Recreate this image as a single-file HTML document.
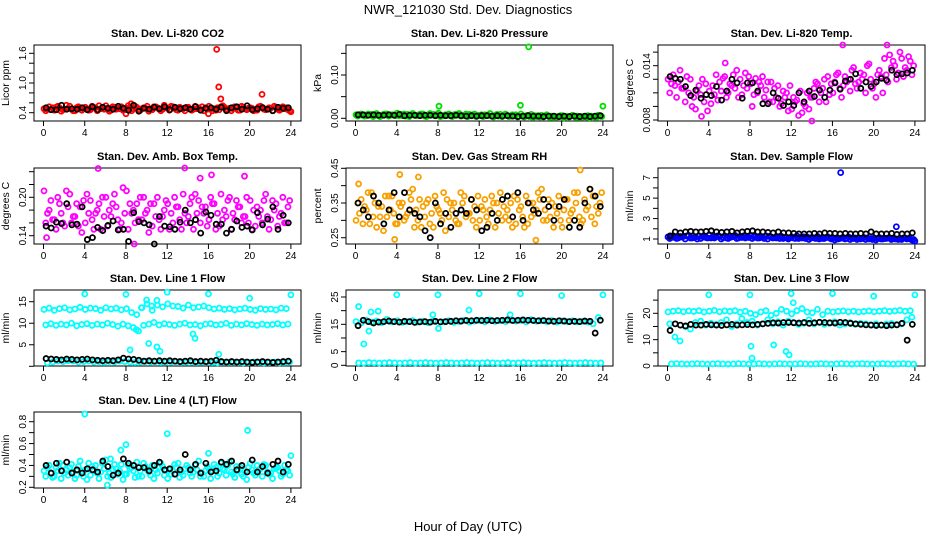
<!DOCTYPE html>
<html><head><meta charset="utf-8"><style>
body{margin:0;background:#fff;}
svg{display:block;font-family:"Liberation Sans",sans-serif;}
</style></head><body>
<svg id="chart" width="936" height="540" viewBox="0 0 936 540" xmlns="http://www.w3.org/2000/svg">
<rect width="936" height="540" fill="#fff"/>
<text x="468" y="14" font-size="13" text-anchor="middle">NWR_121030  Std. Dev. Diagnostics</text>
<text x="468" y="531" font-size="13" text-anchor="middle">Hour of Day (UTC)</text>
</svg>
<script>
const HOURS=[0,0.5,1,1.5,2,2.5,3,3.5,4,4.5,5,5.5,6,6.5,7,7.5,8,8.5,9,9.5,10,10.5,11,11.5,12,12.5,13,13.5,14,14.5,15,15.5,16,16.5,17,17.5,18,18.5,19,19.5,20,20.5,21,21.5,22,22.5,23,23.5];
const XTICKS=[0,4,8,12,16,20,24];

const co2A=[0.48,0.52,0.45,0.50,0.47,0.53,0.44,0.49,0.51,0.46,0.50,0.48,0.54,0.45,0.47,0.52,0.49,0.44,0.51,0.48,0.53,0.46,0.50,0.47,0.49,0.52,0.45,0.48,0.51,0.47,0.50,0.44,0.53,0.48,0.46,0.51,0.49,0.52,0.45,0.48,0.50,0.47,0.53,0.46,0.49,0.51,0.47,0.50];
const co2B=[0.44,0.46,0.51,0.43,0.55,0.47,0.50,0.45,0.48,0.53,0.44,0.50,0.47,0.52,0.49,0.45,0.54,0.48,0.46,0.50,0.43,0.52,0.47,0.55,0.45,0.49,0.51,0.44,0.47,0.53,0.46,0.50,0.48,0.45,0.52,0.47,0.44,0.50,0.53,0.46,0.49,0.45,0.51,0.48,0.44,0.47,0.52,0.46];
const co2C=[0.47,0.50,0.53,0.46,0.49,0.44,0.52,0.48,0.45,0.50,0.54,0.47,0.43,0.51,0.48,0.46,0.50,0.53,0.45,0.49,0.47,0.52,0.44,0.50,0.53,0.46,0.49,0.51,0.45,0.48,0.52,0.47,0.44,0.50,0.54,0.46,0.48,0.45,0.51,0.49,0.44,0.52,0.47,0.50,0.53,0.45,0.48,0.44];
const co2K=[0.50,0.46,0.46,0.55,0.47,0.48,0.47,0.50,0.46,0.52,0.46,0.51,0.49,0.47,0.53,0.49,0.45,0.55,0.43,0.49,0.47,0.51,0.48,0.52,0.46,0.51,0.48,0.50,0.47,0.52,0.45,0.49,0.50,0.47,0.51,0.44,0.50,0.52,0.47,0.54,0.46,0.48,0.50,0.47,0.44,0.51,0.49,0.50];
const co2OutH=[16.8,17.0,17.2,21.2,8.0,16.0,24.0,8.5];
const co2OutV=[1.68,0.92,0.68,0.77,0.38,0.38,0.42,0.58];

const presA=[0.008,0.010,0.006,0.009,0.011,0.007,0.010,0.008,0.012,0.006,0.009,0.011,0.007,0.010,0.008,0.009,0.012,0.006,0.010,0.008,0.011,0.007,0.009,0.010,0.006,0.008,0.011,0.007,0.009,0.010,0.005,0.008,0.010,0.006,0.009,0.004,0.007,0.008,0.005,0.003,0.006,0.004,0.007,0.005,0.003,0.006,0.004,0.007];
const presB=[0.005,0.007,0.010,0.004,0.006,0.009,0.005,0.008,0.006,0.010,0.004,0.007,0.009,0.005,0.011,0.006,0.004,0.008,0.006,0.009,0.005,0.010,0.006,0.004,0.008,0.006,0.005,0.009,0.004,0.006,0.008,0.003,0.005,0.007,0.002,0.006,0.003,0.005,0.002,0.004,0.001,0.003,0.005,0.002,0.004,0.001,0.003,0.005];
const presC=[0.007,0.005,0.009,0.008,0.004,0.010,0.007,0.006,0.009,0.005,0.008,0.006,0.010,0.004,0.007,0.009,0.005,0.007,0.004,0.008,0.006,0.004,0.008,0.007,0.004,0.007,0.003,0.005,0.007,0.004,0.006,0.005,0.003,0.004,0.006,0.003,0.005,0.002,0.004,0.006,0.003,0.005,0.002,0.004,0.003,0.005,0.002,0.004];
const presK=[0.008,0.008,0.007,0.008,0.007,0.007,0.008,0.007,0.009,0.006,0.007,0.007,0.006,0.007,0.007,0.006,0.007,0.006,0.006,0.007,0.006,0.005,0.006,0.005,0.006,0.006,0.005,0.006,0.005,0.006,0.005,0.004,0.005,0.006,0.005,0.005,0.004,0.005,0.005,0.004,0.005,0.004,0.005,0.004,0.005,0.004,0.005,0.006];
const presOutH=[16.8,8.1,16.0,24.0];
const presOutV=[0.165,0.028,0.030,0.028];

const tempA=[0.0125,0.0130,0.0122,0.0115,0.0110,0.0105,0.0118,0.0100,0.0112,0.0108,0.0122,0.0128,0.0120,0.0115,0.0125,0.0132,0.0120,0.0126,0.0118,0.0113,0.0122,0.0105,0.0098,0.0110,0.0092,0.0102,0.0088,0.0110,0.0105,0.0120,0.0115,0.0128,0.0110,0.0132,0.0118,0.0125,0.0138,0.0122,0.0130,0.0142,0.0120,0.0135,0.0148,0.0152,0.0140,0.0155,0.0138,0.0145];
const tempB=[0.0110,0.0118,0.0135,0.0100,0.0125,0.0092,0.0108,0.0120,0.0098,0.0130,0.0112,0.0105,0.0118,0.0135,0.0108,0.0115,0.0095,0.0110,0.0128,0.0122,0.0100,0.0118,0.0112,0.0090,0.0105,0.0085,0.0098,0.0092,0.0115,0.0100,0.0125,0.0108,0.0122,0.0115,0.0128,0.0112,0.0120,0.0132,0.0110,0.0125,0.0105,0.0128,0.0130,0.0138,0.0125,0.0148,0.0135,0.0130];
const tempC=[0.0120,0.0105,0.0115,0.0128,0.0095,0.0112,0.0125,0.0090,0.0118,0.0102,0.0126,0.0110,0.0130,0.0105,0.0118,0.0128,0.0108,0.0122,0.0105,0.0100,0.0115,0.0095,0.0105,0.0118,0.0100,0.0112,0.0095,0.0105,0.0122,0.0110,0.0100,0.0120,0.0130,0.0105,0.0122,0.0135,0.0115,0.0125,0.0140,0.0115,0.0130,0.0110,0.0122,0.0145,0.0132,0.0128,0.0150,0.0140];
const tempK=[0.0128,0.0126,0.0125,0.0117,0.0107,0.0113,0.0104,0.0108,0.0107,0.0117,0.0102,0.0112,0.0125,0.0121,0.0104,0.0121,0.0121,0.0112,0.0098,0.0098,0.0110,0.0104,0.0096,0.0100,0.0096,0.0110,0.0100,0.0112,0.0106,0.0113,0.0105,0.0113,0.0121,0.0114,0.0123,0.0125,0.0131,0.0115,0.0122,0.0117,0.0122,0.0126,0.0124,0.0135,0.0130,0.0131,0.0132,0.0135];
const tempOutH=[17.0,21.3,5.6,14.0,3.3];
const tempOutV=[0.0172,0.0173,0.0143,0.0076,0.0084];

const ambA=[0.21,0.18,0.165,0.19,0.155,0.205,0.17,0.185,0.16,0.195,0.175,0.15,0.20,0.17,0.185,0.16,0.21,0.175,0.19,0.165,0.18,0.155,0.20,0.17,0.19,0.16,0.185,0.205,0.17,0.15,0.195,0.175,0.165,0.19,0.155,0.18,0.20,0.165,0.185,0.17,0.195,0.155,0.18,0.205,0.165,0.19,0.175,0.16];
const ambB=[0.16,0.195,0.15,0.175,0.21,0.16,0.19,0.145,0.205,0.165,0.18,0.20,0.155,0.19,0.165,0.215,0.15,0.18,0.165,0.20,0.145,0.19,0.165,0.18,0.15,0.2,0.165,0.175,0.19,0.205,0.16,0.185,0.2,0.15,0.205,0.17,0.15,0.195,0.16,0.2,0.15,0.185,0.16,0.17,0.195,0.155,0.2,0.185];
const ambC=[0.175,0.165,0.20,0.16,0.185,0.17,0.155,0.195,0.175,0.15,0.19,0.17,0.18,0.205,0.15,0.175,0.19,0.16,0.2,0.175,0.19,0.17,0.15,0.195,0.175,0.185,0.15,0.16,0.2,0.175,0.185,0.155,0.19,0.175,0.165,0.195,0.175,0.185,0.17,0.16,0.18,0.17,0.195,0.15,0.18,0.17,0.16,0.195];
const ambK=[0.155,0.152,0.161,0.159,0.19,0.157,0.158,0.185,0.134,0.137,0.153,0.148,0.156,0.163,0.149,0.150,0.131,0.176,0.162,0.160,0.157,0.127,0.170,0.155,0.154,0.150,0.161,0.18,0.160,0.165,0.144,0.177,0.172,0.158,0.158,0.144,0.150,0.163,0.153,0.155,0.149,0.176,0.157,0.166,0.185,0.150,0.172,0.160];
const ambOutH=[5.3,13.7,19.5,15.2,16.3,0.3,8.8];
const ambOutV=[0.245,0.255,0.233,0.23,0.235,0.137,0.127];

const rhA=[0.30,0.36,0.33,0.38,0.28,0.34,0.31,0.37,0.29,0.35,0.32,0.39,0.30,0.34,0.36,0.28,0.33,0.38,0.31,0.35,0.29,0.37,0.32,0.34,0.30,0.36,0.33,0.28,0.38,0.31,0.35,0.29,0.34,0.37,0.31,0.33,0.39,0.30,0.35,0.32,0.28,0.36,0.33,0.38,0.30,0.34,0.37,0.32];
const rhB=[0.35,0.29,0.38,0.31,0.34,0.27,0.37,0.32,0.35,0.30,0.38,0.28,0.36,0.31,0.29,0.37,0.32,0.27,0.35,0.30,0.38,0.31,0.36,0.28,0.34,0.31,0.37,0.35,0.30,0.33,0.28,0.36,0.31,0.29,0.35,0.38,0.30,0.36,0.28,0.37,0.33,0.30,0.38,0.31,0.36,0.39,0.29,0.35];
const rhC=[0.32,0.34,0.29,0.35,0.31,0.37,0.33,0.29,0.34,0.31,0.36,0.33,0.28,0.35,0.32,0.34,0.30,0.36,0.33,0.29,0.35,0.32,0.30,0.37,0.33,0.29,0.35,0.32,0.34,0.30,0.37,0.33,0.28,0.35,0.32,0.36,0.33,0.31,0.34,0.30,0.36,0.32,0.35,0.29,0.33,0.31,0.34,0.38];
const rhK=[0.35,0.33,0.31,0.37,0.35,0.29,0.33,0.38,0.31,0.38,0.33,0.32,0.31,0.27,0.25,0.35,0.29,0.32,0.28,0.32,0.33,0.32,0.36,0.33,0.27,0.28,0.32,0.30,0.36,0.37,0.31,0.38,0.30,0.35,0.33,0.32,0.36,0.34,0.30,0.34,0.36,0.28,0.30,0.28,0.35,0.39,0.37,0.34];
const rhOutH=[4.3,6.1,21.8,17.5,0.3,3.8];
const rhOutV=[0.432,0.425,0.445,0.243,0.405,0.245];

const sfA=[1.2,1.3,1.1,1.25,1.35,1.15,1.3,1.2,1.4,1.1,1.25,1.3,1.15,1.35,1.2,1.1,1.3,1.25,1.15,1.3,1.2,1.1,1.25,1.15,1.2,1.3,1.1,1.2,1.15,1.25,1.05,1.2,1.1,1.0,1.15,1.2,1.05,1.1,1.15,1.0,1.1,1.15,1.05,1.1,1.0,1.05,1.1,1.0];
const sfB=[1.05,1.15,1.25,1.0,1.1,1.2,1.05,1.15,1.1,1.2,1.0,1.1,1.2,1.05,1.15,1.2,1.05,1.1,1.2,1.0,1.1,1.2,1.05,1.0,1.1,1.05,1.2,0.95,1.1,1.0,1.05,1.1,0.9,1.05,1.0,0.95,1.1,1.0,0.95,1.05,0.9,1.0,1.05,0.95,1.0,0.95,1.0,0.9];
const sfC=[1.15,1.05,1.2,1.3,1.1,1.0,1.25,1.1,1.2,1.3,1.15,1.05,1.25,1.1,1.3,1.15,1.2,1.1,1.05,1.25,1.15,1.05,1.15,1.1,1.05,1.15,1.05,1.1,1.05,1.1,1.15,1.0,1.05,1.1,1.05,1.1,0.95,1.05,1.1,0.95,1.05,1.0,1.1,1.05,0.95,1.1,1.05,0.95];
const sfK=[1.3,1.7,1.6,1.7,1.75,1.7,1.7,1.75,1.8,1.7,1.65,1.7,1.75,1.6,1.7,1.75,1.8,1.7,1.7,1.65,1.6,1.7,1.6,1.6,1.55,1.5,1.5,1.5,1.55,1.5,1.6,1.55,1.55,1.5,1.55,1.5,1.5,1.55,1.5,1.7,1.5,1.5,1.5,1.55,1.45,1.5,1.5,1.6];
const sfOutH=[16.8,22.2,24.0];
const sfOutV=[7.5,2.2,0.8];

const l1A=[13.2,13.5,13.0,13.4,13.6,13.1,13.3,13.7,13.2,13.5,13.4,13.0,13.6,13.3,13.5,13.1,13.4,12.5,12.0,13.6,14.5,13.0,14.2,13.8,14.5,14.0,13.9,13.5,14.2,13.6,13.8,14.0,13.6,13.3,13.5,13.2,13.4,13.1,13.3,13.5,13.2,13.0,13.4,13.2,13.3,13.1,13.5,13.4];
const l1B=[9.6,9.9,9.5,9.8,9.6,10.0,9.4,9.7,9.9,9.5,9.8,9.6,10.0,9.7,9.3,9.8,9.4,9.0,8.2,9.5,9.8,10.2,9.6,9.9,9.7,9.5,9.8,10.0,9.6,9.7,9.4,9.8,9.9,9.6,9.7,10.0,9.5,9.8,9.6,9.9,9.7,9.5,9.8,9.6,9.7,9.9,9.6,9.8];
const l1C=[0.8,1.0,1.2,1.1,1.3,1.2,1.0,1.1,1.2,1.0,1.1,0.9,1.1,1.0,1.2,1.1,1.0,0.9,1.0,1.1,1.0,1.1,0.9,1.0,1.0,1.1,0.9,1.0,1.0,0.9,1.0,1.0,0.9,0.8,1.0,0.9,1.0,0.9,0.8,0.9,1.0,0.9,0.8,0.9,1.0,0.8,0.9,1.0];
const l1K=[1.8,1.7,1.6,1.5,1.7,1.6,1.5,1.6,1.7,1.5,1.4,1.3,1.4,1.3,1.5,1.9,1.7,1.6,1.4,1.2,1.3,1.2,1.3,1.2,1.3,1.2,1.1,1.2,1.3,1.1,1.2,1.1,1.2,1.4,1.1,1.0,1.1,1.0,1.1,1.0,0.9,1.0,1.1,1.0,0.9,1.0,1.1,1.2];
const l1OutH=[4,8,12,16,20,24,8.4,9,10.2,10.5,11,11.3,14.5,14.7,17,10,11,9.5];
const l1OutV=[16.8,16.7,17.2,16.8,15.8,16.6,3.8,8.5,5.3,14,4.5,3.5,7.5,6.5,2.8,15.4,15.3,13.6];

const l2A=[16.0,15.5,16.5,15.8,16.2,15.6,16.8,15.9,16.3,15.7,16.0,16.4,15.8,16.1,15.6,16.2,13.5,15.9,16.3,15.7,16.0,16.5,15.8,16.2,16.4,15.9,16.6,16.1,16.3,16.0,16.5,16.2,16.4,15.9,16.7,16.1,16.3,16.0,16.4,15.8,16.2,16.0,16.3,15.9,16.1,15.8,15.2,17.5];
const l2B=[0.9,0.8,1.0,0.9,0.8,0.9,1.0,0.9,0.8,0.9,1.0,0.8,0.9,1.0,0.9,0.8,0.9,1.0,0.9,0.8,0.9,1.0,0.9,0.8,0.9,1.0,0.9,0.8,0.9,1.0,0.8,0.9,1.0,0.9,0.8,0.9,1.0,0.9,0.8,0.9,1.0,0.9,0.8,0.9,1.0,0.9,0.8,0.9];
const l2K=[14.5,16.5,16.0,15.5,15.8,16.0,16.2,16.0,15.8,16.1,16.0,15.7,15.9,16.0,15.8,16.1,15.9,16.0,16.1,16.3,16.2,16.4,16.3,16.5,16.4,16.5,16.3,16.4,16.5,16.6,16.4,16.5,16.6,16.5,16.4,16.3,16.4,16.2,16.1,16.3,16.2,16.0,16.1,16.0,16.2,16.1,11.8,16.5];
const l2OutH=[4,8,12,16,20,24,0.3,0.8,1.5,1.3,2.2,7.5,11,15];
const l2OutV=[25.8,25.8,26.2,26.2,25.5,25.8,21.5,7.8,19.5,12.5,19.8,18.5,20.2,18.5];

const l3A=[20.5,20.8,21.0,20.6,20.9,20.7,21.0,20.5,20.8,21.1,20.6,20.9,20.7,21.0,20.4,20.8,20.0,19.5,20.5,21.0,19.2,20.0,21.5,20.8,19.8,21.0,21.8,20.5,20.2,21.5,19.5,20.8,20.5,20.7,20.9,20.6,20.8,20.5,20.7,20.9,20.6,20.8,21.0,20.7,20.9,21.1,20.8,21.0];
const l3B=[16.0,11.0,9.5,15.0,14.0,16.5,17.0,15.5,16.2,15.8,16.5,17.5,15.0,16.0,18.0,16.5,17.0,15.5,16.0,17.5,16.0,16.8,15.5,17.0,16.5,15.8,16.2,17.5,16.0,16.5,15.8,16.2,16.8,15.5,16.0,16.5,15.8,16.2,16.0,15.7,16.0,15.6,15.9,16.1,15.8,16.0,17.5,18.5];
const l3C=[0.8,0.9,0.8,0.7,0.8,0.9,0.8,0.7,0.8,0.9,0.8,0.7,0.8,0.9,0.8,0.7,0.8,0.9,0.8,0.7,0.8,0.9,0.8,0.7,0.8,0.9,0.8,0.7,0.8,0.9,0.8,0.7,0.8,0.9,0.8,0.7,0.8,0.9,0.8,0.7,0.8,0.9,0.8,0.7,0.8,0.9,0.8,0.7];
const l3K=[13.5,16.0,15.5,15.2,15.8,15.5,15.5,15.8,15.6,15.5,15.4,15.6,15.8,15.5,15.6,15.7,15.6,15.8,16.0,16.2,16.4,16.3,16.5,16.5,16.4,16.3,16.5,16.2,16.4,16.6,16.5,16.4,16.3,16.6,16.5,16.2,16.0,15.8,15.6,15.5,15.4,15.5,15.3,15.5,15.6,16.2,9.8,15.8];
const l3OutH=[4,8,12,16,20,24,8.1,10.3,11.5,11.8,12.2,8.2];
const l3OutV=[27,27,27.5,27.5,26.5,27,7.5,8,5.5,4.2,24,3];

const l4A=[0.35,0.40,0.30,0.42,0.33,0.38,0.28,0.44,0.36,0.31,0.40,0.34,0.45,0.29,0.37,0.41,0.32,0.38,0.43,0.30,0.36,0.40,0.33,0.39,0.28,0.35,0.42,0.31,0.38,0.34,0.44,0.30,0.37,0.41,0.33,0.36,0.43,0.29,0.39,0.35,0.42,0.31,0.37,0.40,0.33,0.38,0.30,0.36];
const l4B=[0.30,0.33,0.38,0.28,0.36,0.41,0.31,0.35,0.27,0.39,0.33,0.42,0.30,0.36,0.32,0.27,0.40,0.35,0.30,0.42,0.34,0.28,0.38,0.31,0.36,0.41,0.29,0.37,0.33,0.40,0.30,0.35,0.28,0.38,0.42,0.31,0.34,0.39,0.32,0.27,0.36,0.40,0.30,0.34,0.28,0.38,0.32,0.35];
const l4C=[0.38,0.29,0.35,0.40,0.31,0.34,0.39,0.30,0.42,0.35,0.28,0.37,0.33,0.41,0.35,0.32,0.37,0.29,0.35,0.39,0.31,0.36,0.42,0.35,0.32,0.38,0.34,0.40,0.30,0.36,0.33,0.39,0.35,0.30,0.37,0.40,0.32,0.35,0.30,0.38,0.33,0.36,0.41,0.32,0.37,0.35,0.40,0.31];
const l4K=[0.40,0.33,0.42,0.35,0.43,0.33,0.36,0.33,0.37,0.36,0.34,0.44,0.39,0.31,0.33,0.46,0.42,0.40,0.38,0.38,0.35,0.40,0.43,0.36,0.37,0.32,0.36,0.50,0.36,0.41,0.33,0.42,0.34,0.35,0.43,0.41,0.44,0.36,0.40,0.34,0.45,0.34,0.39,0.33,0.41,0.44,0.34,0.41];
const l4OutH=[4,12,19.8,24,8,7.5,6.2,16,6.5];
const l4OutV=[0.87,0.69,0.72,0.49,0.59,0.54,0.22,0.51,0.46];

const panels=[
 {name:'co2',title:'Stan. Dev. Li-820 CO2',ylab:'Licor ppm',col:0,row:0,color:'#ff0000',t:[0.4,1.6],p:[112.7,53.3],ticks:[0.4,0.6,0.8,1.0,1.2,1.4,1.6],labels:['0.4','1.0','1.6'],series:[co2A,co2B,co2C],k:co2K,oh:co2OutH,ov:co2OutV},
 {name:'pressure',title:'Stan. Dev. Li-820 Pressure',ylab:'kPa',col:1,row:0,color:'#00dd00',t:[0,0.1],p:[118.3,75],ticks:[0,0.05,0.1,0.15],labels:['0.00','0.10'],series:[presA,presB,presC],k:presK,oh:presOutH,ov:presOutV},
 {name:'temp',title:'Stan. Dev. Li-820 Temp.',ylab:'degrees C',col:2,row:0,color:'#ff00ff',t:[0.008,0.014],p:[120,65.7],ticks:[0.008,0.0095,0.011,0.0125,0.014,0.0155],labels:['0.008','0.014'],series:[tempA,tempB,tempC],k:tempK,oh:tempOutH,ov:tempOutV},
 {name:'amb-box-temp',title:'Stan. Dev. Amb. Box Temp.',ylab:'degrees C',col:0,row:1,color:'#ff00ff',t:[0.14,0.20],p:[235.7,197.3],ticks:[0.14,0.16,0.18,0.20,0.22,0.24],labels:['0.14','0.20'],series:[ambA,ambB,ambC],k:ambK,oh:ambOutH,ov:ambOutV},
 {name:'gas-stream-rh',title:'Stan. Dev. Gas Stream RH',ylab:'percent',col:1,row:1,color:'#f7a000',t:[0.25,0.45],p:[237.7,168.3],ticks:[0.25,0.30,0.35,0.40,0.45],labels:['0.25','0.35','0.45'],series:[rhA,rhB,rhC],k:rhK,oh:rhOutH,ov:rhOutV},
 {name:'sample-flow',title:'Stan. Dev. Sample Flow',ylab:'ml/min',col:2,row:1,color:'#0000ff',t:[1,7],p:[239,177.7],ticks:[1,2,3,4,5,6,7],labels:['1','3','5','7'],series:[sfA,sfB,sfC],k:sfK,oh:sfOutH,ov:sfOutV},
 {name:'line1-flow',title:'Stan. Dev. Line 1 Flow',ylab:'ml/min',col:0,row:2,color:'#00ffff',t:[0,15],p:[366.3,301.7],ticks:[0,5,10,15],labels:['5','10','15'],series:[l1A,l1B,l1C],k:l1K,oh:l1OutH,ov:l1OutV},
 {name:'line2-flow',title:'Stan. Dev. Line 2 Flow',ylab:'ml/min',col:1,row:2,color:'#00ffff',t:[0,25],p:[365.3,297],ticks:[0,5,10,15,20,25],labels:['0','5','15','25'],series:[l2A,l2B],k:l2K,oh:l2OutH,ov:l2OutV},
 {name:'line3-flow',title:'Stan. Dev. Line 3 Flow',ylab:'ml/min',col:2,row:2,color:'#00ffff',t:[0,20],p:[366,313.3],ticks:[0,5,10,15,20,25],labels:['0','10','20'],series:[l3A,l3B,l3C],k:l3K,oh:l3OutH,ov:l3OutV},
 {name:'line4-flow',title:'Stan. Dev. Line 4 (LT) Flow',ylab:'ml/min',col:0,row:3,color:'#00ffff',t:[0.2,0.8],p:[487.3,421.7],ticks:[0.2,0.3,0.4,0.5,0.6,0.7,0.8],labels:['0.2','0.4','0.6','0.8'],series:[l4A,l4B,l4C],k:l4K,oh:l4OutH,ov:l4OutV}
];
const NS='http://www.w3.org/2000/svg';
const svg=document.getElementById('chart');
const LEFTS=[34,346,658], TOPS=[45,168,290,412], W=267, H=76;
function mk(tag,attrs,parent){const e=document.createElementNS(NS,tag);for(const k in attrs)e.setAttribute(k,attrs[k]);parent.appendChild(e);return e;}
panels.forEach(pn=>{
  const L=LEFTS[pn.col], T=TOPS[pn.row];
  const g=mk('g',{},svg);
  
  
  const xs=h=>L+9.5+h*(247.4/24);
  const ys=v=>pn.p[0]+(v-pn.t[0])*(pn.p[1]-pn.p[0])/(pn.t[1]-pn.t[0]);
  const clip=v=>Math.max(T,Math.min(T+H,v));
  const title=mk('text',{x:L+W/2,y:T-8,'font-size':11,'font-weight':'bold','text-anchor':'middle'},g);
  title.textContent=pn.title;
  
  
  const yl=mk('text',{x:0,y:0,'font-size':10.5,'text-anchor':'middle',transform:`translate(${L-25},${T+H/2}) rotate(-90)`},g);
  yl.textContent=pn.ylab;
  
  
  const xa=mk('g',{},g);
  
  
  mk('line',{x1:xs(0),x2:xs(24),y1:T+H,y2:T+H,stroke:'#000'},xa);
  XTICKS.forEach(h=>{
    mk('line',{x1:xs(h),x2:xs(h),y1:T+H,y2:T+H+5,stroke:'#000'},xa);
    const tx=mk('text',{x:xs(h),y:T+H+15,'font-size':10,'text-anchor':'middle'},xa);
    tx.textContent=h;
    
    
  });
  const ya=mk('g',{},g);
  
  
  const tk=pn.ticks.map(ys).filter(y=>y>=T-1&&y<=T+H+1);
  mk('line',{x1:L,x2:L,y1:Math.min(...tk),y2:Math.max(...tk),stroke:'#000'},ya);
  pn.ticks.forEach(v=>{const y=ys(v);if(y<T-1||y>T+H+1)return;mk('line',{x1:L-5,x2:L,y1:y,y2:y,stroke:'#000'},ya);});
  pn.labels.forEach(s=>{const y=ys(parseFloat(s));
    const tx=mk('text',{x:0,y:0,'font-size':10,'text-anchor':'middle',transform:`translate(${L-8},${y}) rotate(-90)`},ya);
    tx.textContent=s;
    
    
  });
  mk('rect',{x:L,y:T,width:W,height:H,fill:'none',stroke:'#000'},g);
  const pts=mk('g',{fill:'none','stroke-width':1.8},g);
  
  
  const n=pn.series.length;
  pn.series.forEach((arr,si)=>{
    arr.forEach((v,i)=>{
      const c=mk('circle',{cx:xs(HOURS[i]+0.05+si*0.5/n),cy:clip(ys(v)),r:2.5,stroke:pn.color},pts);
      
      
    });
  });
  pn.oh.forEach((h,i)=>{
    const c=mk('circle',{cx:xs(h),cy:clip(ys(pn.ov[i])),r:2.5,stroke:pn.color},pts);
    
    
  });
  pn.k.forEach((v,i)=>{
    const c=mk('circle',{cx:xs(HOURS[i]+0.25),cy:clip(ys(v)),r:2.5,stroke:'#000'},pts);
    
    
  });
});
</script>
</body></html>
